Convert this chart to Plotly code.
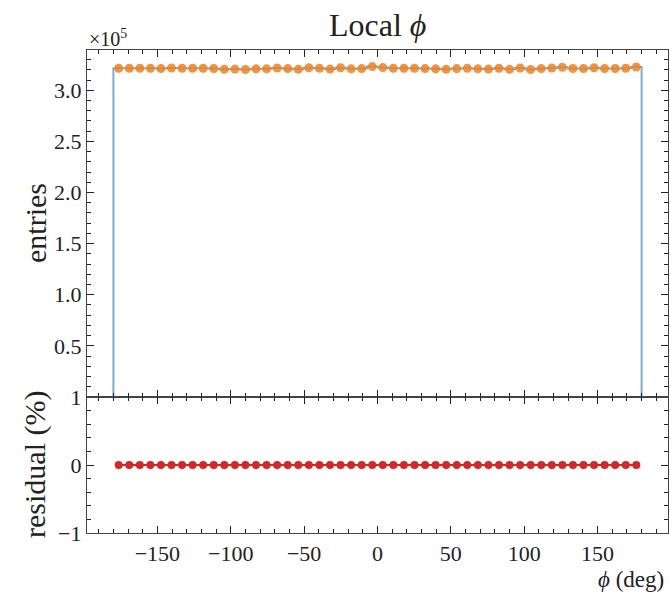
import numpy as np
import plotly.graph_objects as go

# ---- data ----
n_bins = 50
phi_min, phi_max = -180.0, 180.0
entries = [3.215, 3.215, 3.215, 3.215, 3.212, 3.218, 3.215, 3.215, 3.215, 3.213,
           3.205, 3.207, 3.203, 3.210, 3.210, 3.218, 3.212, 3.205, 3.220, 3.215,
           3.207, 3.220, 3.210, 3.212, 3.232, 3.222, 3.215, 3.215, 3.215, 3.212,
           3.210, 3.205, 3.212, 3.215, 3.210, 3.207, 3.215, 3.205, 3.218, 3.203,
           3.212, 3.218, 3.225, 3.213, 3.213, 3.220, 3.213, 3.213, 3.215, 3.228]
entries = [v * 1e5 for v in entries]
residual = [0.0] * n_bins

top_ticks = [0.5e5, 1.0e5, 1.5e5, 2.0e5, 2.5e5, 3.0e5]
top_ticktext = ["0.5", "1.0", "1.5", "2.0", "2.5", "3.0"]
x_ticks = [-150, -100, -50, 0, 50, 100, 150]

edges = np.linspace(phi_min, phi_max, n_bins + 1)
centers = 0.5 * (edges[:-1] + edges[1:])

FONT = "Liberation Serif"
INK = "#222222"

fig = go.Figure()

# step histogram (blue)
step_x = [phi_min] + list(edges) + [phi_max]
step_y = [0] + entries + [entries[-1], 0]
fig.add_trace(go.Scatter(x=step_x, y=step_y, mode="lines", line_shape="hv",
                         line=dict(color="rgba(31,119,180,0.6)", width=2),
                         xaxis="x", yaxis="y", showlegend=False))
# orange points
fig.add_trace(go.Scatter(x=centers, y=entries, mode="markers",
                         marker=dict(color="rgba(240,128,30,0.85)", size=9),
                         xaxis="x", yaxis="y", showlegend=False))
# residual (red)
fig.add_trace(go.Scatter(x=centers, y=residual, mode="lines+markers",
                         line=dict(color="#d62728", width=2),
                         marker=dict(color="#d62728", size=8),
                         xaxis="x2", yaxis="y2", showlegend=False))

split = 136 / 483

axis_common = dict(showline=True, linecolor="#444444", linewidth=1.2, mirror="allticks",
                   ticks="inside", ticklen=7, tickwidth=1, tickcolor=INK,
                   showgrid=False, zeroline=False,
                   tickfont=dict(family=FONT, size=22, color=INK))

fig.update_layout(
    width=669, height=593,
    margin=dict(l=87, r=1, t=50, b=60),
    plot_bgcolor="white", paper_bgcolor="white",
    font=dict(family=FONT, color=INK),
    xaxis=dict(**axis_common, range=[-198, 198], domain=[0, 1], anchor="y",
               tickvals=x_ticks, showticklabels=False, matches="x2",
               minor=dict(dtick=10, tick0=0, ticks="inside", ticklen=4, tickcolor=INK)),
    yaxis=dict(**axis_common, range=[0, 3.394e5], domain=[split, 1], anchor="x",
               tickvals=top_ticks, ticktext=top_ticktext,
               minor=dict(dtick=1e4, tick0=0, ticks="inside", ticklen=4, tickcolor=INK)),
    xaxis2=dict(**axis_common, range=[-198, 198], domain=[0, 1], anchor="y2",
                tickvals=x_ticks,
                minor=dict(dtick=10, tick0=0, ticks="inside", ticklen=4, tickcolor=INK)),
    yaxis2=dict(**axis_common, range=[-1, 1], domain=[0, split], anchor="x2",
                tickvals=[-1, 0, 1], ticktext=["\u22121", "0", "1"],
                minor=dict(dtick=0.2, tick0=0, ticks="inside", ticklen=4, tickcolor=INK)),
)

W, H = 669, 593
L, R, T, B = 87, 1, 50, 60
pw, ph = W - L - R, H - T - B

# (text, pixel x, pixel y, xanchor, angle, size)
labels = [
    ("Local <i>ϕ</i>", 377.5, 25, "center", 0, 32),
    ("×10<sup>5</sup>", 87, 38, "left", 0, 20),
    ("entries", 35, 223, "center", -90, 30),
    ("residual (%)", 35, 465, "center", -90, 30),
    ("<i>ϕ</i> (deg)", 666, 579, "right", 0, 23),
]
for text, px_x, px_y, xa, ang, size in labels:
    fig.add_annotation(text=text, x=(px_x - L) / pw, y=(H - B - px_y) / ph,
                       xref="paper", yref="paper", xanchor=xa, yanchor="middle",
                       showarrow=False, textangle=ang,
                       font=dict(family=FONT, size=size, color=INK))

fig.write_html("out.html")
